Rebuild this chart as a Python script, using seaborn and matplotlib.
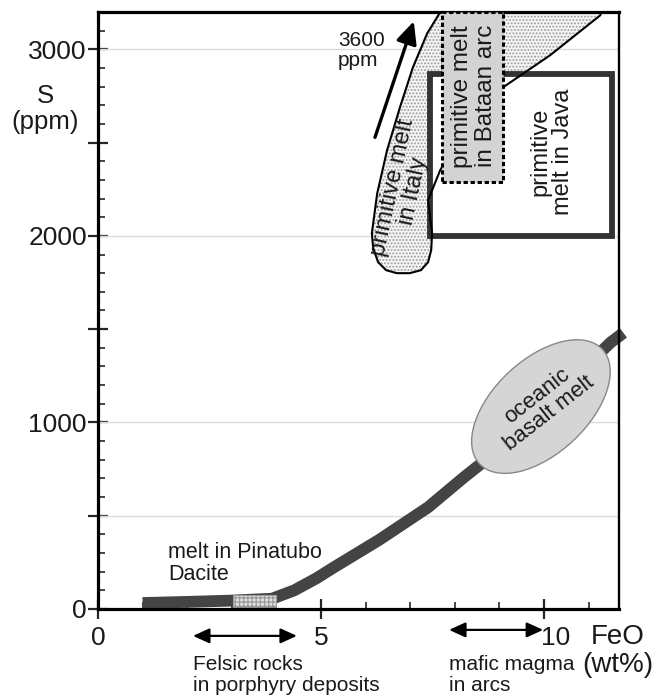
import numpy as np
import pandas as pd
import matplotlib
matplotlib.use("Agg")
import matplotlib.pyplot as plt
import matplotlib.patches as mpatches
import matplotlib.transforms as mtransforms
import seaborn as sns

# S vs FeO trend of melts
feo = [1.0, 2.0, 3.0, 3.9, 4.4, 4.9, 5.3, 6.3, 7.4, 8.2, 8.7, 9.5, 10.5, 11.5, 11.78]
s_ppm = [32, 38, 45, 55, 100, 165, 225, 370, 545, 705, 800, 975, 1200, 1430, 1480]

# primitive melt in Italy (outline, runs up to 3600 ppm, clipped by the axes)
italy_x = [7.85, 7.67, 7.38, 7.06, 6.77, 6.48, 6.26, 6.14, 6.17, 6.28, 6.46, 6.70, 6.99, 7.24,
           7.40, 7.47, 7.49, 7.40, 7.67, 8.34, 9.08, 10.13, 11.26, 11.32, 11.32, 7.85]
italy_y = [3400, 3198, 3085, 2903, 2689, 2458, 2228, 2014, 1934, 1859, 1816, 1800, 1800, 1816,
           1859, 1923, 2014, 2191, 2351, 2619, 2796, 2967, 3182, 3235, 3400, 3400]

# boxes: (x0, x1, y0, y1)
java_box = (7.44, 11.52, 2000, 2870)
bataan_box = (7.71, 9.08, 2290, 3200)
pinatubo_box = (3.03, 4.0, 10, 75)
basalt_center = (9.93, 1085)

felsic_range = (2.13, 4.46)
mafic_range = (7.87, 9.98)

sns.set_style("white")
plt.rcParams['font.family'] = ['Liberation Sans', 'DejaVu Sans']
plt.rcParams['hatch.linewidth'] = 0.9

fig = plt.figure(figsize=(6.72, 6.96), dpi=100)
ax = fig.add_axes([0.1458, 0.125, 0.9211 - 0.1458, 0.9828 - 0.125])
txt = '#1a1a1a'

for g in [500, 1000, 2000, 3000]:
    ax.axhline(g, color='#dcdcdc', lw=1.0, zorder=0.6)

# Italy field: stipple then outline
xy = np.column_stack([italy_x, italy_y])
ax.add_patch(mpatches.Polygon(xy, closed=True, facecolor='#f5f5f5', edgecolor='#9a9a9a',
                              lw=0, hatch='.....', zorder=1))
# Java box
x0, x1, y0, y1 = java_box
ax.add_patch(mpatches.Rectangle((x0, y0), x1 - x0, y1 - y0, facecolor='white',
                                edgecolor='#333333', lw=4.2, zorder=1.5))
ax.add_patch(mpatches.Polygon(xy, closed=True, fill=False, edgecolor='black', lw=1.5,
                              joinstyle='round', zorder=1.6))
# Bataan box
x0, x1, y0, y1 = bataan_box
ax.add_patch(mpatches.Rectangle((x0, y0), x1 - x0, y1 - y0, facecolor='#d3d3d3',
                                edgecolor='black', lw=2.2, ls=(0, (1.4, 0.9)), zorder=2.8))

# melt trend
df = pd.DataFrame({'FeO': feo, 'S': s_ppm})
sns.lineplot(data=df, x='FeO', y='S', ax=ax, color='#444444', lw=8.5, sort=False,
             solid_capstyle='butt', clip_on=False, zorder=2)

x0, x1, y0, y1 = pinatubo_box
ax.add_patch(mpatches.Rectangle((x0, y0), x1 - x0, y1 - y0, facecolor='#e2e2e2',
                                edgecolor='#9a9a9a', lw=0.8, hatch='++++', zorder=2.2))

# oceanic basalt ellipse, sized in inches
tr = fig.dpi_scale_trans + mtransforms.ScaledTranslation(basalt_center[0], basalt_center[1], ax.transData)
ax.add_patch(mpatches.Ellipse((0, 0), 1.68, 0.94, angle=43, transform=tr, facecolor='#d5d5d5',
                              edgecolor='#888888', lw=1, zorder=3, clip_on=False))
ax.text(basalt_center[0] + 0.05, basalt_center[1] + 10, 'oceanic\nbasalt melt', rotation=38,
        ha='center', va='center', fontsize=16, color=txt, zorder=4, linespacing=1.0,
        rotation_mode='anchor')

# texts in the fields
ax.text(8.43, 2748, 'primitive melt\nin Bataan arc', rotation=90, ha='center', va='center',
        fontsize=17.5, color=txt, zorder=4, linespacing=1.15)
ax.text(10.18, 2448, 'primitive\nmelt in Java', rotation=90, ha='center', va='center',
        fontsize=17, color=txt, zorder=4, linespacing=1.05)
ax.text(6.84, 2250, 'primitive melt\nin Italy', rotation=78, ha='center', va='center',
        fontsize=17, color=txt, zorder=4, linespacing=1.0, rotation_mode='anchor')
ax.text(5.38, 2994, '3600\nppm', ha='left', va='center', fontsize=15, color=txt, linespacing=1.05)
ax.annotate('', xy=(7.08, 3150), xytext=(6.21, 2528),
            arrowprops=dict(arrowstyle='-|>,head_length=0.75,head_width=0.35', lw=2.4,
                            color='black', mutation_scale=18, shrinkA=0, shrinkB=0))
ax.text(1.57, 246, 'melt in Pinatubo\nDacite', ha='left', va='center', fontsize=15.5, color=txt,
        linespacing=1.05)

# ranges under the axis
for (a, b), yy in [(felsic_range, -144), (mafic_range, -112)]:
    ax.annotate('', xy=(b, yy), xytext=(a, yy), annotation_clip=False,
                arrowprops=dict(arrowstyle='<|-|>,head_length=0.55,head_width=0.25', lw=1.6,
                                color='black', mutation_scale=18, shrinkA=0, shrinkB=0))
ax.text(2.13, -353, 'Felsic rocks\nin porphyry deposits', ha='left', va='center', fontsize=15,
        color=txt, linespacing=1.1)
ax.text(7.87, -353, 'mafic magma\nin arcs', ha='left', va='center', fontsize=15,
        color=txt, linespacing=1.1)
ax.text(11.65, -225, 'FeO\n(wt%)', ha='center', va='center', fontsize=20, color=txt,
        linespacing=1.1)
ax.text(-1.19, 2678, 'S\n(ppm)', ha='center', va='center', fontsize=18.5, color=txt,
        linespacing=1.1)

ax.set_xlim(0, 11.68)
ax.set_ylim(0, 3200)
ax.set_xlabel('')
ax.set_ylabel('')
ax.set_xticks([0, 5, 10], ['0', '5', '10'])
ax.set_xticks([1, 2, 3, 4, 6, 7, 8, 9, 11], minor=True)
ax.set_yticks([0, 500, 1000, 1500, 2000, 2500, 3000], ['0', '', '1000', '', '2000', '', '3000'])
ax.set_yticks([v for v in range(100, 3200, 100) if v % 500], minor=True)
ax.tick_params(which='major', direction='inout', length=14, width=1.6, labelsize=19,
               labelcolor=txt, pad=1)
ax.tick_params(axis='x', which='major', pad=5)
ax.tick_params(which='minor', direction='in', length=5, width=1.2)
ax.tick_params(bottom=True, left=True, which='both')
ax.get_xticklabels()[2].set_transform(ax.get_xticklabels()[2].get_transform() +
                                      mtransforms.ScaledTranslation(0.12, 0, fig.dpi_scale_trans))
for side in ['left', 'bottom', 'top']:
    ax.spines[side].set_linewidth(2.3)
    ax.spines[side].set_color('black')
ax.spines['right'].set_linewidth(1.7)
ax.spines['right'].set_color('black')

fig.savefig('out.png', dpi=100)
